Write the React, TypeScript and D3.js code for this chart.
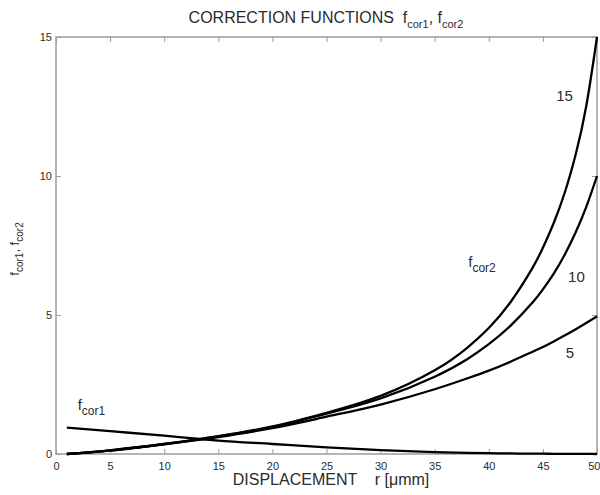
import React, { useEffect, useRef } from "react";
import * as d3 from "d3";

// displacement r [um] where the curves were read
const rValues = [1, 5, 10, 13, 15, 20, 25, 30, 35, 38, 40, 42, 44, 45, 46, 47, 48, 49, 50];

// f_cor1 (decaying)
const fCor1 = [0.95, 0.82, 0.66, 0.55, 0.48, 0.36, 0.24, 0.14, 0.07, 0.04, 0.03, 0.02, 0.012, 0.01, 0.008, 0.006, 0.004, 0.002, 0];

// f_cor2 family, labelled 5, 10, 15 at the right end
const fCor2_5 = [0, 0.12, 0.35, 0.5, 0.61, 0.93, 1.34, 1.78, 2.33, 2.72, 3.0, 3.32, 3.67, 3.85, 4.05, 4.26, 4.48, 4.71, 4.95];
const fCor2_10 = [0, 0.13, 0.36, 0.52, 0.63, 0.97, 1.45, 2.0, 2.78, 3.41, 3.95, 4.61, 5.43, 5.92, 6.49, 7.16, 7.95, 8.88, 10];
const fCor2_15 = [0, 0.13, 0.36, 0.52, 0.64, 0.99, 1.48, 2.09, 3.01, 3.82, 4.53, 5.46, 6.67, 7.42, 8.31, 9.38, 10.73, 12.5, 15];

const xTicks = [0, 5, 10, 15, 20, 25, 30, 35, 40, 45, 50];
const yTicks = [0, 5, 10, 15];

const FONT = "'Liberation Sans', Arial, Helvetica, sans-serif";
const AXIS_GREY = "#9c9c9c";
const TEXT = "#2b2b2b";

function CorrectionChart() {
  const ref = useRef<SVGSVGElement>(null);

  useEffect(() => {
    const svg = d3.select(ref.current);
    svg.selectAll("*").remove();

    const x = d3.scaleLinear().domain([0, 50]).range([56, 597]);
    const y = d3.scaleLinear().domain([0, 15]).range([454, 37]);

    // frame
    svg
      .append("rect")
      .attr("x", x(0))
      .attr("y", y(15))
      .attr("width", x(50) - x(0))
      .attr("height", y(0) - y(15))
      .attr("fill", "none")
      .attr("stroke", AXIS_GREY)
      .attr("stroke-width", 1.5);

    const styleAxis = (g: any) => {
      g.select(".domain").remove();
      g.selectAll(".tick line").attr("stroke", AXIS_GREY).attr("stroke-width", 1);
      g.selectAll(".tick text")
        .attr("fill", TEXT)
        .style("font-family", FONT)
        .style("font-size", "11px");
    };

    const bottom = svg
      .append("g")
      .attr("transform", `translate(0,${y(0)})`)
      .call(d3.axisBottom(x).tickValues(xTicks).tickSizeInner(-5).tickSizeOuter(0).tickPadding(8))
      .call(styleAxis);
    // last label sits at the page edge: keep it inside
    bottom
      .selectAll(".tick text")
      .filter((d: any) => d === 50)
      .attr("text-anchor", "end")
      .attr("x", 3);

    svg
      .append("g")
      .attr("transform", `translate(0,${y(15)})`)
      .call(d3.axisTop(x).tickValues(xTicks).tickSizeInner(-5).tickSizeOuter(0).tickFormat(() => ""))
      .call(styleAxis);

    svg
      .append("g")
      .attr("transform", `translate(${x(0)},0)`)
      .call(d3.axisLeft(y).tickValues(yTicks).tickSizeInner(-5).tickSizeOuter(0).tickPadding(4))
      .call(styleAxis);

    svg
      .append("g")
      .attr("transform", `translate(${x(50)},0)`)
      .call(d3.axisRight(y).tickValues(yTicks).tickSizeInner(-5).tickSizeOuter(0).tickFormat(() => ""))
      .call(styleAxis);

    // curves
    const line = (curve: any) =>
      d3
        .line<number>()
        .x((_, i) => x(rValues[i]))
        .y(d => y(d))
        .curve(curve);

    const drawCurve = (series: number[], curve: any) =>
      svg
        .append("path")
        .attr("d", line(curve)(series))
        .attr("fill", "none")
        .attr("stroke", "#000")
        .attr("stroke-width", 2.3);

    drawCurve(fCor1, d3.curveMonotoneX);
    [fCor2_5, fCor2_10, fCor2_15].forEach(s => drawCurve(s, d3.curveNatural));

    // curve labels
    const label = (txt: string, r: number, v: number) =>
      svg
        .append("text")
        .attr("x", x(r))
        .attr("y", y(v))
        .attr("text-anchor", "middle")
        .attr("fill", TEXT)
        .style("font-family", FONT)
        .style("font-size", "15px")
        .text(txt);

    label("15", 47.0, 12.7);
    label("10", 48.1, 6.19);
    label("5", 47.5, 3.45);

    const fLabel = (sub: string, r: number, v: number) => {
      const t = svg
        .append("text")
        .attr("x", x(r))
        .attr("y", y(v))
        .attr("fill", TEXT)
        .style("font-family", FONT)
        .style("font-size", "15px");
      t.append("tspan").text("f");
      t.append("tspan").attr("dy", 5).style("font-size", "12px").text(sub);
    };

    fLabel("cor2", 38.1, 6.73);
    fLabel("cor1", 2.0, 1.58);

    // title
    const title = svg
      .append("text")
      .attr("x", 326)
      .attr("y", 23)
      .attr("text-anchor", "middle")
      .attr("fill", TEXT)
      .attr("xml:space", "preserve")
      .style("font-family", FONT)
      .style("font-size", "16px")
      .style("white-space", "pre");
    title.append("tspan").text("CORRECTION FUNCTIONS  f");
    title.append("tspan").attr("dy", 5).style("font-size", "11px").text("cor1");
    title.append("tspan").attr("dy", -5).text(", f");
    title.append("tspan").attr("dy", 5).style("font-size", "11px").text("cor2");

    // x label
    svg
      .append("text")
      .attr("x", 331)
      .attr("y", 485)
      .attr("text-anchor", "middle")
      .attr("fill", TEXT)
      .attr("xml:space", "preserve")
      .style("font-family", FONT)
      .style("font-size", "16px")
      .style("white-space", "pre")
      .text("DISPLACEMENT    r [\u03bcmm]");

    // y label
    const yl = svg
      .append("text")
      .attr("transform", "translate(19,249) rotate(-90)")
      .attr("text-anchor", "middle")
      .attr("fill", TEXT)
      .style("font-family", FONT)
      .style("font-size", "13px");
    yl.append("tspan").text("f");
    yl.append("tspan").attr("dy", 4).style("font-size", "10px").text("cor1");
    yl.append("tspan").attr("dy", -4).text(", f");
    yl.append("tspan").attr("dy", 4).style("font-size", "10px").text("cor2");
  });

  return (
    <svg
      ref={ref}
      width={600}
      height={495}
      style={{ position: "absolute", left: 0, top: 0, background: "#fff" }}
    />
  );
}

export default function App() {
  return <CorrectionChart />;
}
